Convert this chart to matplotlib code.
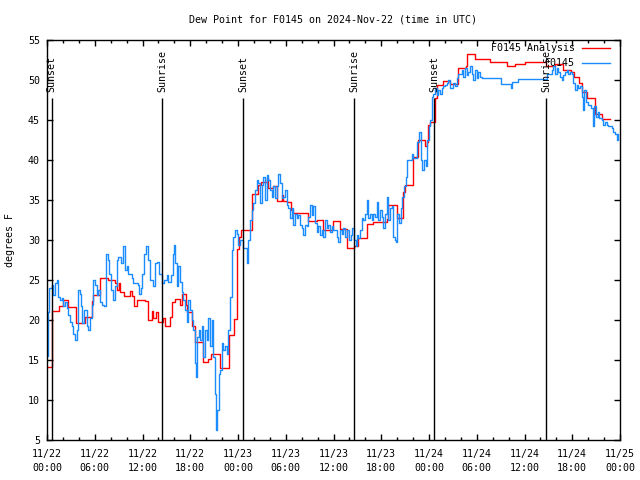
import matplotlib
matplotlib.use("Agg")
import matplotlib.pyplot as plt
import matplotlib.dates as mdates
import pandas as pd

plt.rcParams["font.family"] = ["DejaVu Sans Mono"]
plt.rcParams["font.size"] = 7.2

# hours since 2024-11-22 00:00 UTC
analysis_hours = [
    0.0, 0.59, 1.55, 2.05, 2.68, 3.60, 4.78, 5.61, 5.82, 6.66, 7.71, 8.55, 8.76,
    9.05, 9.18, 9.72, 10.43, 10.72, 10.98, 11.27, 12.32, 12.74, 13.15, 13.36,
    13.66, 13.99, 14.54, 14.83, 15.46, 15.75, 16.09, 16.71, 17.01, 17.43, 17.55,
    18.18, 18.60, 19.65, 20.28, 20.61, 21.74, 22.87, 23.54, 23.84, 24.1, 24.4,
    25.72, 26.56, 26.85, 27.61, 27.82, 28.45, 28.86, 29.49, 29.70, 30.12, 30.62,
    30.96, 32.84, 33.89, 34.73, 35.90, 36.82, 37.66, 38.63, 39.13, 40.18, 41.01,
    42.69, 42.90, 43.95, 44.78, 44.99, 46.0, 46.67, 47.51, 47.72, 47.93, 48.1,
    48.8, 49.05, 49.8, 50.6, 51.6, 52.6, 52.8, 53.8, 55.7, 57.8, 58.8, 60.1,
    62.7, 63.8, 64.8, 65.8, 66.2, 66.8, 67.2, 67.9, 68.9, 69.7, 70.8,
]
analysis_vals = [
    14.1, 21.1, 21.7, 22.5, 21.6, 19.6, 20.4, 22.4, 23.1, 25.2, 25.0, 24.6, 23.75,
    24.6, 23.5, 23.0, 23.6, 23.0, 21.75, 22.5, 22.4, 20.0, 21.1, 20.3,
    21.0, 19.7, 20.2, 19.25, 20.4, 22.3, 22.6, 21.9, 23.3, 21.9, 21.0,
    19.25, 17.3, 14.8, 15.1, 15.75, 14.0, 18.1, 20.1, 28.9, 30.4, 31.2,
    35.75, 36.9, 37.3, 37.8, 36.5, 36.75, 34.9, 35.6, 34.9, 34.7, 33.8,
    33.4, 32.4, 32.5, 31.25, 32.4, 31.4, 29.0, 29.25, 30.3, 32.0, 32.3,
    32.6, 34.4, 32.7, 36.0, 36.9, 40.4, 42.5, 41.7, 42.3, 44.4, 44.8,
    47.7, 49.4, 49.9, 49.5, 51.5, 51.7, 53.3, 52.6, 52.3, 51.8, 52.0, 52.3,
    51.7, 52.0, 51.3, 51.0, 50.4, 49.6, 48.5, 47.7, 45.8, 45.1, 45.1,
]

obs_hours = [
    0.0, 0.05, 0.12, 0.2, 0.38, 0.59, 0.80, 1.01, 1.21, 1.42, 1.63, 1.84, 2.05,
    2.26, 2.47, 2.68, 2.89, 3.10, 3.31, 3.52, 3.73, 3.94, 4.15, 4.27, 4.44, 4.69,
    4.99, 5.19, 5.40, 5.61, 5.82, 6.03, 6.24, 6.45, 6.66, 6.87, 7.21, 7.37, 7.62,
    7.79, 8.04, 8.34, 8.55, 8.76, 8.97, 9.30, 9.59, 9.80, 10.01, 10.22, 10.64,
    10.85, 11.40, 11.56, 11.81, 11.98, 12.23, 12.44, 12.65, 12.95, 13.28, 13.57,
    13.87, 14.12, 14.41, 14.71, 15.04, 15.25, 15.54, 15.79, 15.96, 16.13, 16.30,
    16.50, 16.71, 16.92, 17.13, 17.34, 17.55, 17.76, 17.97, 18.18, 18.39, 18.60,
    18.73, 18.89, 19.06, 19.23, 19.44, 19.65, 19.86, 20.07, 20.28, 20.49, 20.70,
    20.90, 21.11, 21.24, 21.41, 21.57, 21.74, 21.95, 22.16, 22.37, 22.58, 22.79,
    23.00, 23.21, 23.42, 23.63, 23.84, 24.05, 24.26, 24.67, 25.09, 25.30, 25.51,
    25.72, 25.93, 26.14, 26.35, 26.56, 26.77, 26.98, 27.19, 27.40, 27.61, 27.82,
    28.03, 28.24, 28.45, 28.65, 28.86, 29.07, 29.28, 29.49, 29.70, 29.91, 30.12,
    30.33, 30.54, 30.75, 30.96, 31.16, 31.37, 31.58, 31.79, 32.00, 32.21, 32.42,
    32.63, 32.84, 33.05, 33.26, 33.47, 33.68, 33.89, 34.10, 34.31, 34.51, 34.73,
    34.94, 35.15, 35.35, 35.57, 35.77, 35.98, 36.40, 36.61, 36.82, 37.03, 37.24,
    37.45, 37.66, 37.96, 38.21, 38.37, 38.63, 38.79, 38.96, 39.13, 39.34, 39.55,
    39.76, 39.97, 40.18, 40.39, 40.60, 40.80, 41.01, 41.22, 41.43, 41.64, 41.85,
    42.06, 42.27, 42.48, 42.69, 42.90, 43.11, 43.32, 43.53, 43.74, 43.86, 44.03,
    44.24, 44.45, 44.66, 44.87, 45.08, 45.29, 45.62, 45.83, 46.04, 46.33, 46.54,
    46.75, 46.96, 47.17, 47.38, 47.59, 47.80, 48.01, 48.17, 48.34, 48.55, 48.76,
    48.97, 49.18, 49.39, 49.60, 49.81, 50.02, 50.23, 50.44, 50.65, 51.07, 51.28,
    51.49, 51.70, 52.12, 52.33, 52.54, 52.75, 52.95, 53.16, 53.37, 53.58, 53.79,
    54.00, 54.21, 54.42, 54.63, 57.06, 58.18, 58.31, 58.48, 59.24, 62.38, 62.80,
    63.43, 63.64, 63.85, 64.06, 64.27, 64.48, 64.69, 64.90, 65.11, 65.31, 65.52,
    65.73, 65.94, 66.15, 66.36, 66.57, 66.78, 66.99, 67.20, 67.41, 67.53, 67.74,
    68.03, 68.33, 68.58, 68.79, 69.00, 69.21, 69.42, 69.71, 69.92, 70.13, 70.34,
    70.55, 70.76, 70.97, 71.18, 71.39, 71.60, 71.81,
]
obs_vals = [
    20.5, 15.5, 21.0, 24.0, 24.0, 24.4, 23.1, 24.6, 25.0, 22.9, 22.5, 22.7, 21.7,
    22.3, 21.5, 20.6, 19.8, 19.2, 18.3, 17.5, 18.75, 23.75, 23.3, 21.7, 19.6, 21.25,
    19.2, 18.75, 20.2, 21.9, 25.0, 24.4, 23.1, 23.75, 22.3, 21.9, 21.7, 28.3, 27.5,
    25.8, 23.75, 22.5, 24.2, 27.5, 27.9, 27.1, 29.2, 26.25, 26.7, 25.8, 25.2,
    24.6, 24.4, 23.3, 24.0, 25.8, 28.3, 29.2, 27.5, 25.0, 24.2, 27.1,
    27.3, 25.8, 24.6, 25.0, 25.6, 24.8, 25.6, 28.3, 29.4, 27.1, 24.2,
    26.7, 24.8, 23.5, 22.5, 21.25, 19.8, 22.5, 21.25, 20.0, 18.75, 14.6,
    12.9, 17.9, 18.75, 17.5, 19.2, 15.4, 18.75, 17.5, 20.2, 16.7, 20.0,
    15.4, 10.8, 6.25, 8.75, 13.3, 13.75, 17.1, 16.25, 16.7, 15.8, 18.75,
    22.9, 28.75, 30.4, 31.25, 30.8, 29.4, 30.0, 29.0, 27.1, 30.0, 32.5,
    33.75, 34.6, 36.25, 37.5, 37.1, 34.6, 36.9, 37.9, 35.0, 38.1, 37.5,
    36.25, 35.4, 36.7, 35.2, 36.7, 38.3, 37.1, 35.2, 35.4, 36.25, 34.4,
    34.0, 32.7, 34.0, 31.9, 33.3, 32.7, 33.1, 31.9, 31.5, 30.6, 31.9,
    31.7, 32.9, 34.4, 33.1, 34.2, 32.1, 31.0, 31.7, 30.6, 31.25, 30.4,
    32.5, 31.5, 31.9, 31.0, 31.7, 31.25, 30.4, 29.8, 31.25, 30.8, 31.5,
    30.4, 31.25, 30.0, 30.6, 31.5, 30.0, 29.2, 30.6, 30.2, 31.25, 32.7,
    32.5, 33.3, 35.0, 32.7, 33.3, 32.5, 33.3, 32.9, 34.8, 32.5, 33.75,
    32.9, 31.5, 33.3, 35.4, 32.5, 34.0, 34.2, 30.4, 30.0, 29.8, 33.3,
    32.1, 34.0, 35.4, 36.7, 37.9, 40.0, 40.0, 40.8, 40.2, 40.2, 42.3,
    43.5, 40.0, 38.75, 40.0, 39.2, 42.5, 44.2, 45.0, 47.9, 48.3, 49.0,
    48.1, 48.75, 48.3, 49.0, 49.2, 49.4, 49.6, 50.0, 49.0, 49.6, 49.2,
    50.2, 50.8, 51.25, 50.4, 51.5, 50.6, 51.0, 51.7, 50.8, 50.0, 51.25,
    50.2, 51.0, 50.4, 50.2, 49.5, 49.5, 49.0, 49.8, 50.1, 50.1, 50.8,
    51.25, 51.7, 50.8, 51.5, 51.0, 50.4, 50.0, 50.6, 51.0, 51.25, 50.8,
    51.0, 50.8, 49.6, 48.75, 49.4, 49.0, 49.2, 47.9, 46.25, 48.75, 47.3,
    46.9, 46.5, 44.2, 46.7, 45.4, 46.0, 45.2, 45.0, 44.4, 44.8, 44.4,
    44.2, 44.2, 44.0, 43.5, 43.3, 42.5, 43.3,
]

sun_hours = [0.6, 14.5, 24.65, 38.6, 48.65, 62.7]
sun_labels = ["Sunset", "Sunrise", "Sunset", "Sunrise", "Sunset", "Sunrise"]

start = pd.Timestamp("2024-11-22 00:00")
t_an = start + pd.to_timedelta(analysis_hours, unit="h")
t_obs = start + pd.to_timedelta(obs_hours, unit="h")
t_sun = start + pd.to_timedelta(sun_hours, unit="h")

fig = plt.figure(figsize=(6.4, 4.8), dpi=100)
ax = fig.add_axes([47 / 640, 40 / 480, 573 / 640, 400 / 480])

ax.plot(t_an, analysis_vals, color="#ff0000", lw=1.0, drawstyle="steps-post")
ax.plot(t_obs, obs_vals, color="#1a8cff", lw=1.0, drawstyle="steps-post")

ax.vlines(t_sun, 5, 47.75, color="black", lw=1.0)
for t, lab in zip(t_sun, sun_labels):
    ax.text(t, 48.5, lab, rotation=90, ha="center", va="bottom")

ax.set_xlim(start, start + pd.Timedelta(hours=72))
ax.set_ylim(5, 55)
ax.set_yticks(range(5, 56, 5))
ax.xaxis.set_major_locator(mdates.HourLocator(byhour=range(0, 24, 6)))
ax.xaxis.set_minor_locator(mdates.HourLocator(byhour=range(0, 24, 2)))
ax.xaxis.set_major_formatter(mdates.DateFormatter("%m/%d\n%H:%M"))
ax.tick_params(which="both", direction="in", top=True, right=True, width=1)
ax.tick_params(which="major", length=4.5, pad=5)
ax.tick_params(axis="x", which="major", pad=6.5)
ax.tick_params(which="minor", length=2.5)
for s in ax.spines.values():
    s.set_linewidth(1.0)

# legend drawn gnuplot style: right-aligned text, sample line on the right
ax.text(0.922, 0.98, "F0145 Analysis", transform=ax.transAxes, ha="right", va="center")
ax.plot([0.934, 0.9825], [0.98, 0.98], transform=ax.transAxes, color="#ff0000", lw=1.0)
ax.text(0.922, 0.9425, "F0145", transform=ax.transAxes, ha="right", va="center")
ax.plot([0.934, 0.9825], [0.9425, 0.9425], transform=ax.transAxes, color="#1a8cff", lw=1.0)

fig.text(333 / 640, 1 - 20 / 480, "Dew Point for F0145 on 2024-Nov-22 (time in UTC)",
         ha="center", va="center")
fig.text(10 / 640, 0.5, "degrees F", rotation=90, ha="center", va="center")

fig.canvas.draw()
for lbl in ax.get_xticklabels():
    lbl.set_linespacing(1.5)

fig.savefig("out.png", dpi=100)
